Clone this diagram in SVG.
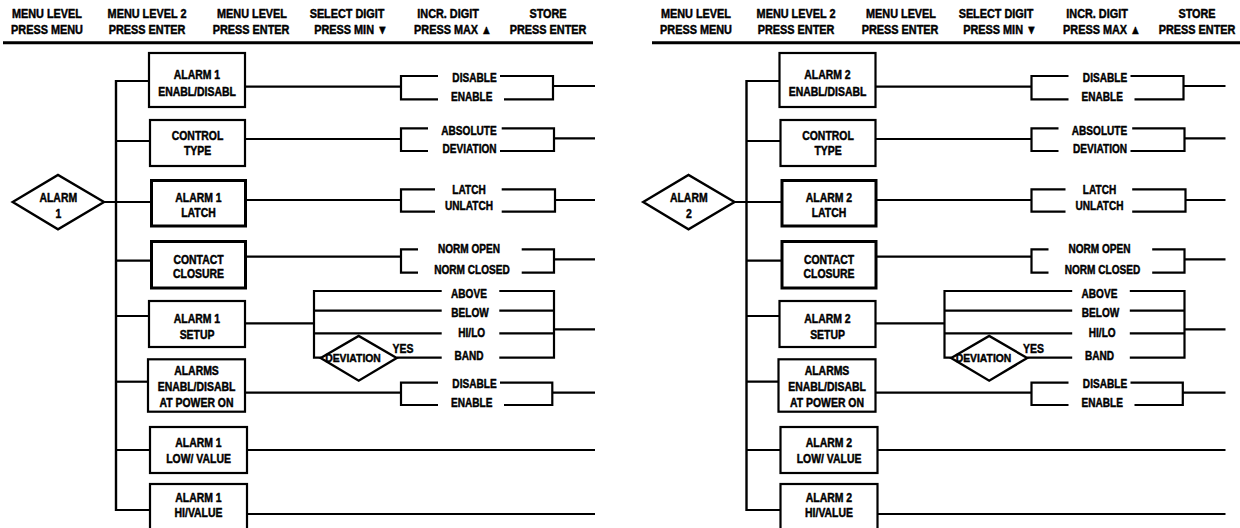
<svg xmlns="http://www.w3.org/2000/svg" width="1240" height="528" viewBox="0 0 1240 528">
  <style>
    .t { font-family: "Liberation Sans", Arial, Helvetica, sans-serif; font-weight: bold; font-size: 12px; text-anchor: middle; fill: #000;
         stroke: #000; stroke-width: 0.45; stroke-linejoin: round;
         transform-box: fill-box; transform-origin: center; transform: scaleX(0.87); }
    .h { font-size: 12.5px; }
    .o { transform: scaleX(0.84); }
    .d { font-size: 11.5px; transform: scaleX(0.9); }
    .ln { fill: none; stroke: #000; stroke-width: 2.2; }
    .tr { fill: none; stroke: #000; stroke-width: 2.4; }
    .rule { stroke: #000; stroke-width: 3; }
    .box { fill: #fff; stroke: #000; stroke-width: 2.2; }
    .box.k { stroke-width: 3; }
    .dia { fill: #fff; stroke: #000; stroke-width: 2.4; stroke-linejoin: miter; }
  </style>

  <!-- column headings, left half -->
  <g id="header-1">
    <text class="t h" x="47" y="18.3">MENU LEVEL</text>
    <text class="t h" x="47" y="34.5">PRESS MENU</text>
    <text class="t h" x="147" y="18.3">MENU LEVEL 2</text>
    <text class="t h" x="147" y="34.5">PRESS ENTER</text>
    <text class="t h" x="252" y="18.3">MENU LEVEL</text>
    <text class="t h" x="251" y="34.5">PRESS ENTER</text>
    <text class="t h" x="347" y="18.3">SELECT DIGIT</text>
    <text class="t h" x="351" y="34.5">PRESS MIN ▼</text>
    <text class="t h" x="448" y="18.3">INCR. DIGIT</text>
    <text class="t h" x="453" y="34.5">PRESS MAX ▲</text>
    <text class="t h" x="548" y="18.3">STORE</text>
    <text class="t h" x="548" y="34.5">PRESS ENTER</text>
    <line class="rule" x1="3" y1="42.7" x2="593" y2="42.7"/>
  </g>

  <!-- column headings, right half -->
  <g id="header-2" transform="translate(649,0)">
    <text class="t h" x="47" y="18.3">MENU LEVEL</text>
    <text class="t h" x="47" y="34.5">PRESS MENU</text>
    <text class="t h" x="147" y="18.3">MENU LEVEL 2</text>
    <text class="t h" x="147" y="34.5">PRESS ENTER</text>
    <text class="t h" x="252" y="18.3">MENU LEVEL</text>
    <text class="t h" x="251" y="34.5">PRESS ENTER</text>
    <text class="t h" x="347" y="18.3">SELECT DIGIT</text>
    <text class="t h" x="351" y="34.5">PRESS MIN ▼</text>
    <text class="t h" x="448" y="18.3">INCR. DIGIT</text>
    <text class="t h" x="453" y="34.5">PRESS MAX ▲</text>
    <text class="t h" x="548" y="18.3">STORE</text>
    <text class="t h" x="548" y="34.5">PRESS ENTER</text>
    <line class="rule" x1="3" y1="42.7" x2="600" y2="42.7"/>
  </g>

  <!-- ===== ALARM 1 menu tree ===== -->
  <g id="tree-alarm1">
    <g id="a1-connectors">
      <!-- trunk and branches to the menu boxes -->
      <line class="tr" x1="116" y1="80" x2="116" y2="511"/>
      <line class="ln" x1="116" y1="81" x2="149" y2="81"/>
      <line class="ln" x1="116" y1="141" x2="150" y2="141"/>
      <line class="ln" x1="104" y1="202" x2="151" y2="202"/>
      <line class="ln" x1="116" y1="260.7" x2="151" y2="260.7"/>
      <line class="ln" x1="116" y1="316" x2="149" y2="316"/>
      <line class="ln" x1="116" y1="381.7" x2="148" y2="381.7"/>
      <line class="ln" x1="116" y1="450" x2="150" y2="450"/>
      <line class="ln" x1="116" y1="510" x2="150" y2="510"/>

      <!-- enable / disable -->
      <line class="ln" x1="245" y1="86.7" x2="401" y2="86.7"/>
      <path class="ln" d="M438,76 H401 V99.3 H438"/>
      <path class="ln" d="M500,76 H553 V99.3 H504"/>
      <line class="ln" x1="553" y1="86" x2="595" y2="86"/>

      <!-- control type -->
      <line class="ln" x1="245" y1="139" x2="401" y2="139"/>
      <path class="ln" d="M428,128.3 H401 V151 H428"/>
      <path class="ln" d="M501.7,128.3 H554 V151 H500"/>
      <line class="ln" x1="554" y1="138.3" x2="595" y2="138.3"/>

      <!-- latch -->
      <line class="ln" x1="245" y1="200" x2="401" y2="200"/>
      <path class="ln" d="M435,189.3 H401 V211.7 H435"/>
      <path class="ln" d="M501.7,189.3 H555 V211.7 H501.7"/>
      <line class="ln" x1="555" y1="200" x2="595" y2="200"/>

      <!-- contact closure -->
      <line class="ln" x1="245" y1="256.7" x2="401" y2="256.7"/>
      <path class="ln" d="M418,249.3 H401 V272.7 H418"/>
      <path class="ln" d="M521.7,249.3 H554 V272.7 H521.7"/>
      <line class="ln" x1="554" y1="259.3" x2="595" y2="259.3"/>

      <!-- setup -->
      <line class="ln" x1="245" y1="323.3" x2="314" y2="323.3"/>
      <path class="ln" d="M441.7,291 H314 V357.7 H321"/>
      <line class="ln" x1="314" y1="310.7" x2="441.7" y2="310.7"/>
      <line class="ln" x1="314" y1="333.3" x2="441.7" y2="333.3"/>
      <line class="ln" x1="396.7" y1="357.7" x2="441.7" y2="357.7"/>
      <path class="ln" d="M499.3,291 H554 V357.7 H499.3"/>
      <line class="ln" x1="499.3" y1="310.7" x2="554" y2="310.7"/>
      <line class="ln" x1="499.3" y1="333.3" x2="554" y2="333.3"/>
      <line class="ln" x1="554" y1="329.3" x2="595" y2="329.3"/>

      <!-- alarms at power on -->
      <line class="ln" x1="245" y1="392.7" x2="401" y2="392.7"/>
      <path class="ln" d="M438,382.7 H401 V405 H438"/>
      <path class="ln" d="M500,382.7 H552.3 V405 H504"/>
      <line class="ln" x1="552.3" y1="392.7" x2="595" y2="392.7"/>

      <!-- value entries -->
      <line class="ln" x1="247" y1="450" x2="595" y2="450"/>
      <line class="ln" x1="247" y1="514" x2="595" y2="514"/>
    </g>

    <g id="a1-start">
      <polygon class="dia" points="12.7,202 58,175 104,202 58,229.3"/>
      <text class="t" x="58.3" y="201.7">ALARM</text>
      <text class="t" x="58.3" y="217.7">1</text>
    </g>
    <g id="a1-enable">
      <rect class="box" x="149" y="53" width="96" height="54"/>
      <text class="t" x="197" y="79.3">ALARM 1</text>
      <text class="t" x="197" y="96">ENABL/DISABL</text>
    </g>
    <g id="a1-control-type">
      <rect class="box" x="150" y="120" width="95" height="46"/>
      <text class="t" x="197.5" y="140">CONTROL</text>
      <text class="t" x="197.5" y="155">TYPE</text>
    </g>
    <g id="a1-latch">
      <rect class="box k" x="151.5" y="180.5" width="94" height="45.5"/>
      <text class="t" x="198.5" y="201.7">ALARM 1</text>
      <text class="t" x="198.5" y="216.7">LATCH</text>
    </g>
    <g id="a1-contact">
      <rect class="box k" x="151.5" y="241.5" width="94" height="46.5"/>
      <text class="t" x="198.5" y="264.3">CONTACT</text>
      <text class="t" x="198.5" y="277.7">CLOSURE</text>
    </g>
    <g id="a1-setup">
      <rect class="box" x="149" y="301" width="96" height="46"/>
      <text class="t" x="197" y="323.3">ALARM 1</text>
      <text class="t" x="197" y="338.7">SETUP</text>
    </g>
    <g id="a1-power-on">
      <rect class="box" x="148" y="359.3" width="97" height="52.4"/>
      <text class="t" x="196.5" y="375">ALARMS</text>
      <text class="t" x="196.5" y="391">ENABL/DISABL</text>
      <text class="t" x="196.5" y="406.7">AT POWER ON</text>
    </g>
    <g id="a1-low">
      <rect class="box" x="150" y="427" width="97" height="46"/>
      <text class="t" x="198.5" y="446.7">ALARM 1</text>
      <text class="t" x="198.5" y="462.7">LOW/ VALUE</text>
    </g>
    <g id="a1-hi">
      <rect class="box" x="150" y="484" width="97" height="50"/>
      <text class="t" x="198.5" y="501.7">ALARM 1</text>
      <text class="t" x="198.5" y="517">HI/VALUE</text>
    </g>

    <g id="a1-options">
      <text class="t o" x="474.5" y="81.7">DISABLE</text>
      <text class="t o" x="471.7" y="100.7">ENABLE</text>
      <text class="t o" x="469" y="135">ABSOLUTE</text>
      <text class="t o" x="469.5" y="152.7">DEVIATION</text>
      <text class="t o" x="469" y="194">LATCH</text>
      <text class="t o" x="469" y="210">UNLATCH</text>
      <text class="t o" x="469" y="253.3">NORM OPEN</text>
      <text class="t o" x="472" y="274">NORM CLOSED</text>
      <text class="t o" x="469" y="297.7">ABOVE</text>
      <text class="t o" x="470" y="317.3">BELOW</text>
      <text class="t o" x="471.7" y="337.3">HI/LO</text>
      <text class="t o" x="469" y="360">BAND</text>
      <text class="t o" x="474.5" y="388.3">DISABLE</text>
      <text class="t o" x="471.7" y="407.3">ENABLE</text>
    </g>
    <g id="a1-deviation">
      <polygon class="dia" points="320.7,358 358.7,336 396.7,358 358.7,380.7"/>
      <text class="t d" x="353" y="361.7">DEVIATION</text>
      <text class="t" x="403" y="352.7">YES</text>
    </g>
  </g>

  <!-- ===== ALARM 2 menu tree ===== -->
  <g id="tree-alarm2" transform="translate(630.5,0)">
    <g id="a2-connectors">
      <line class="tr" x1="116" y1="80" x2="116" y2="511"/>
      <line class="ln" x1="116" y1="81" x2="149" y2="81"/>
      <line class="ln" x1="116" y1="141" x2="150" y2="141"/>
      <line class="ln" x1="104" y1="202" x2="151" y2="202"/>
      <line class="ln" x1="116" y1="260.7" x2="151" y2="260.7"/>
      <line class="ln" x1="116" y1="316" x2="149" y2="316"/>
      <line class="ln" x1="116" y1="381.7" x2="148" y2="381.7"/>
      <line class="ln" x1="116" y1="450" x2="150" y2="450"/>
      <line class="ln" x1="116" y1="510" x2="150" y2="510"/>

      <line class="ln" x1="245" y1="86.7" x2="401" y2="86.7"/>
      <path class="ln" d="M438,76 H401 V99.3 H438"/>
      <path class="ln" d="M500,76 H553 V99.3 H504"/>
      <line class="ln" x1="553" y1="86" x2="595" y2="86"/>

      <line class="ln" x1="245" y1="139" x2="401" y2="139"/>
      <path class="ln" d="M428,128.3 H401 V151 H428"/>
      <path class="ln" d="M501.7,128.3 H554 V151 H500"/>
      <line class="ln" x1="554" y1="138.3" x2="595" y2="138.3"/>

      <line class="ln" x1="245" y1="200" x2="401" y2="200"/>
      <path class="ln" d="M435,189.3 H401 V211.7 H435"/>
      <path class="ln" d="M501.7,189.3 H555 V211.7 H501.7"/>
      <line class="ln" x1="555" y1="200" x2="595" y2="200"/>

      <line class="ln" x1="245" y1="256.7" x2="401" y2="256.7"/>
      <path class="ln" d="M418,249.3 H401 V272.7 H418"/>
      <path class="ln" d="M521.7,249.3 H554 V272.7 H521.7"/>
      <line class="ln" x1="554" y1="259.3" x2="595" y2="259.3"/>

      <line class="ln" x1="245" y1="323.3" x2="314" y2="323.3"/>
      <path class="ln" d="M441.7,291 H314 V357.7 H321"/>
      <line class="ln" x1="314" y1="310.7" x2="441.7" y2="310.7"/>
      <line class="ln" x1="314" y1="333.3" x2="441.7" y2="333.3"/>
      <line class="ln" x1="396.7" y1="357.7" x2="441.7" y2="357.7"/>
      <path class="ln" d="M499.3,291 H554 V357.7 H499.3"/>
      <line class="ln" x1="499.3" y1="310.7" x2="554" y2="310.7"/>
      <line class="ln" x1="499.3" y1="333.3" x2="554" y2="333.3"/>
      <line class="ln" x1="554" y1="329.3" x2="595" y2="329.3"/>

      <line class="ln" x1="245" y1="392.7" x2="401" y2="392.7"/>
      <path class="ln" d="M438,382.7 H401 V405 H438"/>
      <path class="ln" d="M500,382.7 H552.3 V405 H504"/>
      <line class="ln" x1="552.3" y1="392.7" x2="595" y2="392.7"/>

      <line class="ln" x1="247" y1="450" x2="595" y2="450"/>
      <line class="ln" x1="247" y1="514" x2="595" y2="514"/>
    </g>

    <g id="a2-start">
      <polygon class="dia" points="12.7,202 58,175 104,202 58,229.3"/>
      <text class="t" x="58.3" y="201.7">ALARM</text>
      <text class="t" x="58.3" y="217.7">2</text>
    </g>
    <g id="a2-enable">
      <rect class="box" x="149" y="53" width="96" height="54"/>
      <text class="t" x="197" y="79.3">ALARM 2</text>
      <text class="t" x="197" y="96">ENABL/DISABL</text>
    </g>
    <g id="a2-control-type">
      <rect class="box" x="150" y="120" width="95" height="46"/>
      <text class="t" x="197.5" y="140">CONTROL</text>
      <text class="t" x="197.5" y="155">TYPE</text>
    </g>
    <g id="a2-latch">
      <rect class="box k" x="151.5" y="180.5" width="94" height="45.5"/>
      <text class="t" x="198.5" y="201.7">ALARM 2</text>
      <text class="t" x="198.5" y="216.7">LATCH</text>
    </g>
    <g id="a2-contact">
      <rect class="box k" x="151.5" y="241.5" width="94" height="46.5"/>
      <text class="t" x="198.5" y="264.3">CONTACT</text>
      <text class="t" x="198.5" y="277.7">CLOSURE</text>
    </g>
    <g id="a2-setup">
      <rect class="box" x="149" y="301" width="96" height="46"/>
      <text class="t" x="197" y="323.3">ALARM 2</text>
      <text class="t" x="197" y="338.7">SETUP</text>
    </g>
    <g id="a2-power-on">
      <rect class="box" x="148" y="359.3" width="97" height="52.4"/>
      <text class="t" x="196.5" y="375">ALARMS</text>
      <text class="t" x="196.5" y="391">ENABL/DISABL</text>
      <text class="t" x="196.5" y="406.7">AT POWER ON</text>
    </g>
    <g id="a2-low">
      <rect class="box" x="150" y="427" width="97" height="46"/>
      <text class="t" x="198.5" y="446.7">ALARM 2</text>
      <text class="t" x="198.5" y="462.7">LOW/ VALUE</text>
    </g>
    <g id="a2-hi">
      <rect class="box" x="150" y="484" width="97" height="50"/>
      <text class="t" x="198.5" y="501.7">ALARM 2</text>
      <text class="t" x="198.5" y="517">HI/VALUE</text>
    </g>

    <g id="a2-options">
      <text class="t o" x="474.5" y="81.7">DISABLE</text>
      <text class="t o" x="471.7" y="100.7">ENABLE</text>
      <text class="t o" x="469" y="135">ABSOLUTE</text>
      <text class="t o" x="469.5" y="152.7">DEVIATION</text>
      <text class="t o" x="469" y="194">LATCH</text>
      <text class="t o" x="469" y="210">UNLATCH</text>
      <text class="t o" x="469" y="253.3">NORM OPEN</text>
      <text class="t o" x="472" y="274">NORM CLOSED</text>
      <text class="t o" x="469" y="297.7">ABOVE</text>
      <text class="t o" x="470" y="317.3">BELOW</text>
      <text class="t o" x="471.7" y="337.3">HI/LO</text>
      <text class="t o" x="469" y="360">BAND</text>
      <text class="t o" x="474.5" y="388.3">DISABLE</text>
      <text class="t o" x="471.7" y="407.3">ENABLE</text>
    </g>
    <g id="a2-deviation">
      <polygon class="dia" points="320.7,358 358.7,336 396.7,358 358.7,380.7"/>
      <text class="t d" x="353" y="361.7">DEVIATION</text>
      <text class="t" x="403" y="352.7">YES</text>
    </g>
  </g>
</svg>
